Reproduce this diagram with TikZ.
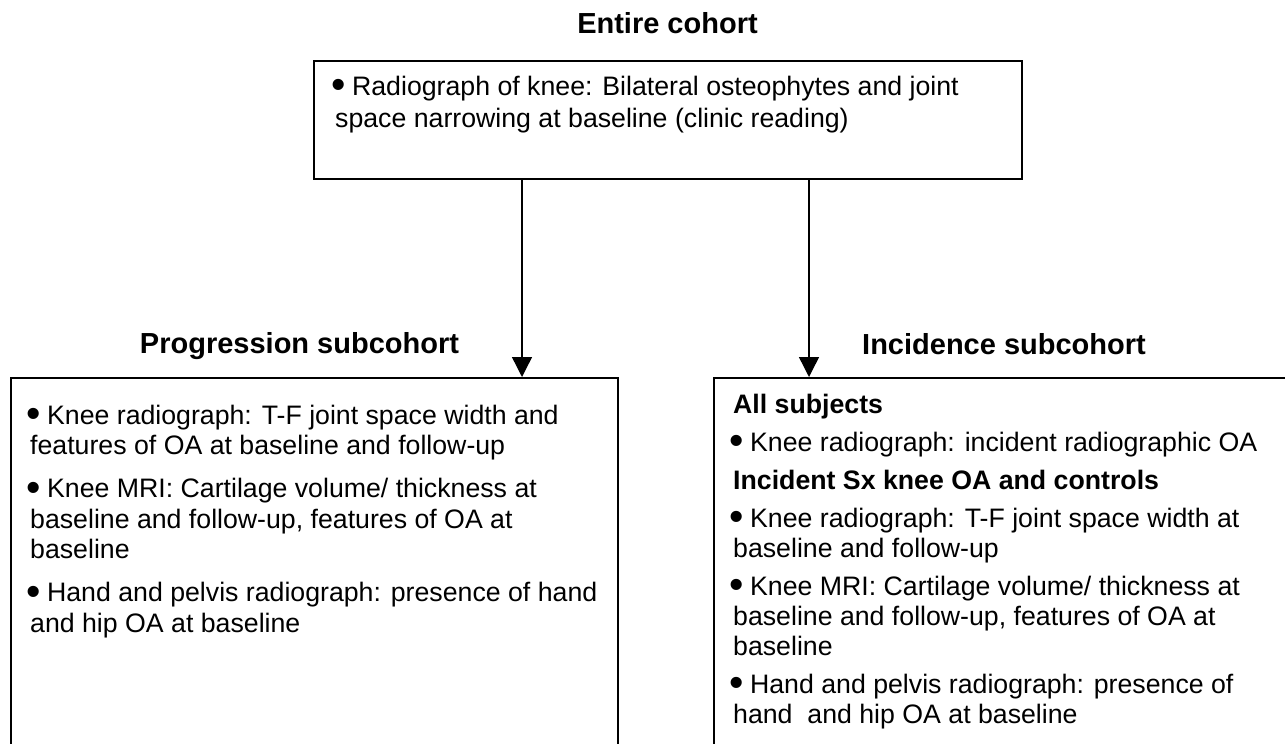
\documentclass[tikz,border=0pt]{standalone}
\usepackage{fontspec}
\setmainfont{Liberation Sans}
\usetikzlibrary{arrows.meta}
\newcommand\bodyfont[1]{\fontsize{26.7pt}{#1}\selectfont}
\newcommand\bul{\makebox[7pt][c]{\smash{\raisebox{-3.5pt}{\fontsize{41pt}{41pt}\selectfont •}}}\kern2.5pt\ }
\tikzset{
  boxline/.style={draw, line width=1.7pt, inner sep=0pt},
  txt/.style={anchor=base west, inner sep=0pt},
  ttl/.style={anchor=base, inner sep=0pt, font=\fontsize{29pt}{34pt}\selectfont\bfseries},
  arr/.style={line width=1.4pt, -{Triangle[width=20pt,length=20pt]}}
}
\begin{document}
\begin{tikzpicture}[x=1pt,y=-1pt]
\useasboundingbox (0,0) rectangle (1285,744);
\clip (0,0) rectangle (1285,744);
% boxes
\node[boxline, anchor=north west, minimum width=708pt, minimum height=118pt] (top) at (313,60) {};
\node[boxline, anchor=north west, minimum width=607pt, minimum height=420pt] (lbox) at (10,377) {};
\node[boxline, anchor=north west, minimum width=620pt, minimum height=420pt] (rbox) at (713,377) {};
% titles
\node[ttl] (ttop) at (667.5,33) {Entire cohort};
\node[ttl] (tleft) at (299.5,353) {Progression subcohort};
\node[ttl] (tright) at (1004,354) {Incidence subcohort};
% texts
\node[txt] (xtop) at (335,95) {\parbox[t]{680pt}{\bodyfont{32pt}%
\bul Radiograph of knee: Bilateral osteophytes and joint\\
space narrowing at baseline (clinic reading)}};
\node[txt] (xleft) at (30,424) {\parbox[t]{580pt}{\bodyfont{30.5pt}\setlength{\parskip}{12.5pt}%
\bul Knee radiograph: T-F joint space width and\\
features of OA at baseline and follow-up\par
\bul Knee MRI: Cartilage volume/ thickness at\\
baseline and follow-up, features of OA at\\
baseline\par
\bul Hand and pelvis radiograph: presence of hand\\
and hip OA at baseline}};
\node[txt] (xright) at (733,413) {\parbox[t]{545pt}{\bodyfont{30pt}\setlength{\parskip}{8pt}%
\textbf{All subjects}\par
\bul Knee radiograph: incident radiographic OA\par
\textbf{Incident Sx knee OA and controls}\par
\bul Knee radiograph: T-F joint space width at\\
baseline and follow-up\par
\bul Knee MRI: Cartilage volume/ thickness at\\
baseline and follow-up, features of OA at\\
baseline\par
\bul Hand and pelvis radiograph: presence of\\
hand\ \ and hip OA at baseline}};
% connectors
\coordinate (xl) at (522,0);
\coordinate (xr) at (809,0);
\draw[arr] (top.south -| xl) -- (lbox.north -| xl);
\draw[arr] (top.south -| xr) -- (rbox.north -| xr);
\end{tikzpicture}
\end{document}
